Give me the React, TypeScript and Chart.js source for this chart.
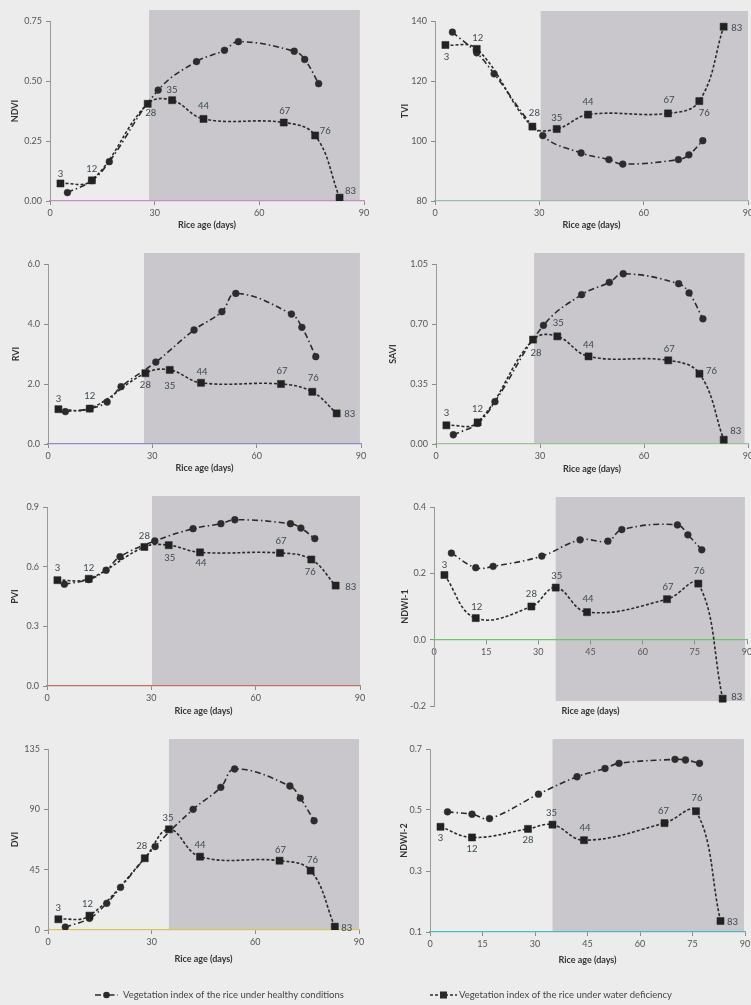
import React, { useEffect, useRef } from "react";
import { Chart, registerables } from "chart.js";

Chart.register(...registerables);

const FONT = "Lato, 'DejaVu Sans', sans-serif";

// ---- shared x values (rice age, days) ----
const healthyDays = [5, 12, 17, 21, 31, 42, 50, 54, 70, 73, 77];
const deficitDays = [3, 12, 28, 35, 44, 67, 76, 83];

const xTicks30 = [0, 30, 60, 90];
const xTicks15 = [0, 15, 30, 45, 60, 75, 90];

// ---- NDVI ----
const ndviHealthy = [0.035, 0.085, 0.164, null, 0.462, 0.581, 0.628, 0.664, 0.624, 0.59, 0.489];
const ndviDeficit = [0.073, 0.086, 0.405, 0.42, 0.342, 0.327, 0.273, 0.014];
const ndviTicks = [0, 0.25, 0.5, 0.75];

// ---- TVI ----
const tviHealthy = [136.3, 129.4, 122.4, null, 101.8, 96.0, 93.8, 92.3, 93.8, 95.4, 100.1];
const tviDeficit = [132.0, 130.7, 104.8, 104.0, 108.8, 109.2, 113.3, 138.1];
const tviTicks = [80, 100, 120, 140];

// ---- RVI ----
const rviHealthy = [1.08, 1.18, 1.4, 1.91, 2.73, 3.8, 4.41, 5.02, 4.33, 3.89, 2.91];
const rviDeficit = [1.16, 1.18, 2.36, 2.47, 2.04, 2.0, 1.74, 1.02];
const rviTicks = [0, 2, 4, 6];

// ---- SAVI ----
const saviHealthy = [0.054, 0.12, 0.247, null, 0.692, 0.871, 0.943, 0.993, 0.935, 0.881, 0.73];
const saviDeficit = [0.109, 0.126, 0.609, 0.628, 0.511, 0.488, 0.41, 0.025];
const saviTicks = [0, 0.35, 0.7, 1.05];

// ---- PVI ----
const pviHealthy = [0.512, 0.535, 0.582, 0.65, 0.729, 0.791, 0.816, 0.836, 0.816, 0.794, 0.741];
const pviDeficit = [0.532, 0.539, 0.699, 0.708, 0.672, 0.669, 0.636, 0.505];
const pviTicks = [0, 0.3, 0.6, 0.9];

// ---- NDWI-1 ----
const ndwi1Healthy = [0.261, 0.217, 0.221, null, 0.252, 0.301, 0.297, 0.332, 0.346, 0.316, 0.271];
const ndwi1Deficit = [0.195, 0.065, 0.1, 0.157, 0.083, 0.122, 0.169, -0.178];
const ndwi1Ticks = [-0.2, 0, 0.2, 0.4];

// ---- DVI ----
const dviHealthy = [2.2, 8.7, 19.9, 31.8, 62.2, 90.0, 106.4, 120.1, 107.4, 98.4, 81.5];
const dviDeficit = [8.0, 10.7, 53.5, 75.1, 54.7, 51.7, 44.3, 2.5];
const dviTicks = [0, 45, 90, 135];

// ---- NDWI-2 ----
const ndwi2Healthy = [0.494, 0.486, 0.472, null, 0.552, 0.609, 0.636, 0.653, 0.666, 0.664, 0.653];
const ndwi2Deficit = [0.445, 0.41, 0.438, 0.452, 0.401, 0.457, 0.496, 0.136];
const ndwi2Ticks = [0.1, 0.3, 0.5, 0.7];

const xTitle = "Rice age (days)";
const legendHealthy = "Vegetation index of the rice under healthy conditions";
const legendDeficit = "Vegetation index of the rice under water deficiency";

// ---- styles ----
const PAGE_BG = "#ececec";
const SHADE = "#c9c6cc";
const LINE = "#2a2a2a";
const LABEL_COLOR = "#3b4a52";
const TICK_COLOR = "#555555";
const LH = 9 * 1.2;

type Box = {
  cx: number; ct: number; cw: number; ch: number;
  l: number; r: number; t: number; b: number;
  titleX: number; xTitleY: number;
  shadeFrom: number; shadeTo: number; shadeTopPad: number; shadeBottom?: number;
  xAxisColor: string; xAtZero?: boolean;
};

type Panel = {
  yLabel: string;
  healthy: (number | null)[];
  deficit: number[];
  yTicks: number[];
  yDec: number;
  xTicks: number[];
  box: Box;
  labelOffsets: number[][];
  legend?: "healthy" | "deficit";
};

const panels: Panel[] = [
  {
    yLabel: "NDVI", healthy: ndviHealthy, deficit: ndviDeficit, yTicks: ndviTicks, yDec: 2, xTicks: xTicks30,
    box: { cx: 0, ct: 0, cw: 375, ch: 236, l: 50, r: 364, t: 21, b: 201, titleX: 15, xTitleY: 225,
      shadeFrom: 28.4, shadeTo: 88.8, shadeTopPad: 11, xAxisColor: "#c48ec6" },
    labelOffsets: [[0, -10], [0, -11], [3, 9], [0, -10], [0, -13], [1, -12], [10, -5], [11, -7]],
  },
  {
    yLabel: "TVI", healthy: tviHealthy, deficit: tviDeficit, yTicks: tviTicks, yDec: 0, xTicks: xTicks30,
    box: { cx: 375, ct: 0, cw: 390, ch: 236, l: 435, r: 748, t: 21, b: 201, titleX: 405, xTitleY: 225,
      shadeFrom: 30.4, shadeTo: 90, shadeTopPad: 10, xAxisColor: "#9fb8b0" },
    labelOffsets: [[1, 12], [1, -11], [2, -14], [0, -11], [0, -13], [1, -13], [5, 12], [13, 1]],
  },
  {
    yLabel: "RVI", healthy: rviHealthy, deficit: rviDeficit, yTicks: rviTicks, yDec: 1, xTicks: xTicks30,
    box: { cx: 0, ct: 236, cw: 375, ch: 244, l: 48, r: 361, t: 264, b: 444, titleX: 16, xTitleY: 468,
      shadeFrom: 27.6, shadeTo: 89.7, shadeTopPad: 11, xAxisColor: "#8c8cc2" },
    labelOffsets: [[0, -10], [0, -13], [0, 12], [0, 16], [1, -11], [1, -13], [1, -14], [13, 1]],
  },
  {
    yLabel: "SAVI", healthy: saviHealthy, deficit: saviDeficit, yTicks: saviTicks, yDec: 2, xTicks: xTicks30,
    box: { cx: 375, ct: 236, cw: 390, ch: 244, l: 436, r: 748, t: 264, b: 444, titleX: 393, xTitleY: 469,
      shadeFrom: 28.3, shadeTo: 89, shadeTopPad: 11, xAxisColor: "#98c498" },
    labelOffsets: [[0, -12], [0, -13], [3, 13], [1, -13], [0, -11], [1, -11], [12, -3], [12, -9]],
  },
  {
    yLabel: "PVI", healthy: pviHealthy, deficit: pviDeficit, yTicks: pviTicks, yDec: 1, xTicks: xTicks30,
    box: { cx: 0, ct: 480, cw: 375, ch: 245, l: 47, r: 360, t: 507, b: 686, titleX: 15, xTitleY: 711,
      shadeFrom: 30.2, shadeTo: 90, shadeTopPad: 11, xAxisColor: "#c2705c" },
    labelOffsets: [[0, -12], [0, -11], [0, -11], [1, 13], [1, 11], [1, -12], [-1, 12], [15, 1]],
  },
  {
    yLabel: "NDWI-1", healthy: ndwi1Healthy, deficit: ndwi1Deficit, yTicks: ndwi1Ticks, yDec: 1, xTicks: xTicks15,
    box: { cx: 375, ct: 480, cw: 390, ch: 245, l: 434, r: 747, t: 507, b: 706, titleX: 405, xTitleY: 711,
      shadeFrom: 35, shadeTo: 89.4, shadeTopPad: 10, shadeBottom: -0.185, xAxisColor: "#6cc46c", xAtZero: true },
    labelOffsets: [[0, -10], [1, -11], [0, -13], [1, -12], [1, -13], [1, -12], [1, -13], [14, -2]],
  },
  {
    yLabel: "DVI", healthy: dviHealthy, deficit: dviDeficit, yTicks: dviTicks, yDec: 0, xTicks: xTicks30,
    box: { cx: 0, ct: 725, cw: 375, ch: 280, l: 48, r: 359, t: 749, b: 930, titleX: 15, xTitleY: 959,
      shadeFrom: 35, shadeTo: 90, shadeTopPad: 10, xAxisColor: "#d6c84e" },
    labelOffsets: [[0, -11], [-2, -12], [-3, -12], [-1, -11], [0, -12], [1, -11], [2, -11], [12, 1]],
    legend: "healthy",
  },
  {
    yLabel: "NDWI-2", healthy: ndwi2Healthy, deficit: ndwi2Deficit, yTicks: ndwi2Ticks, yDec: 1, xTicks: xTicks15,
    box: { cx: 375, ct: 725, cw: 390, ch: 280, l: 430, r: 745, t: 749, b: 932, titleX: 404, xTitleY: 960,
      shadeFrom: 35, shadeTo: 89.7, shadeTopPad: 10, xAxisColor: "#4fb8c8" },
    labelOffsets: [[0, 11], [0, 11], [0, 11], [-1, -12], [1, -12], [-1, -12], [1, -13], [12, 1]],
    legend: "deficit",
  },
];

const HEALTHY_DASH = [6, 3, 1.5, 3];
const DEFICIT_DASH = [3, 2];

function drawLegend(ctx: CanvasRenderingContext2D, kind: "healthy" | "deficit", ox: number, oy: number) {
  const y = 995 - oy;
  ctx.save();
  ctx.strokeStyle = LINE;
  ctx.fillStyle = LINE;
  ctx.lineWidth = 1.6;
  if (kind === "healthy") {
    const x0 = 95 - ox, x1 = 118 - ox, mx = 106.5 - ox;
    ctx.setLineDash(HEALTHY_DASH);
    ctx.beginPath(); ctx.moveTo(x0, y); ctx.lineTo(x1, y); ctx.stroke();
    ctx.setLineDash([]);
    ctx.beginPath(); ctx.arc(mx, y, 3.3, 0, Math.PI * 2); ctx.fill();
    ctx.font = `9.5px ${FONT}`;
    ctx.fillStyle = "#444";
    ctx.textBaseline = "middle";
    ctx.textAlign = "left";
    ctx.fillText(legendHealthy, 123 - ox, y);
  } else {
    const x0 = 430 - ox, x1 = 457 - ox, mx = 443.5 - ox;
    ctx.setLineDash(DEFICIT_DASH);
    ctx.beginPath(); ctx.moveTo(x0, y); ctx.lineTo(x1, y); ctx.stroke();
    ctx.setLineDash([]);
    ctx.fillRect(mx - 3.5, y - 3.5, 7, 7);
    ctx.font = `9.5px ${FONT}`;
    ctx.fillStyle = "#444";
    ctx.textBaseline = "middle";
    ctx.textAlign = "left";
    ctx.fillText(legendDeficit, 459 - ox, y);
  }
  ctx.restore();
}

function buildConfig(p: Panel): any {
  const b = p.box;
  const yMin = p.yTicks[0];
  const yMax = p.yTicks[p.yTicks.length - 1];
  const y0 = b.t + ((yMax - 0) / (yMax - yMin)) * (b.b - b.t);
  let xh: number;
  let padBottom: number;
  if (b.xAtZero) {
    padBottom = b.ct + b.ch - b.b;
    xh = b.xTitleY - y0 + LH / 2;
  } else {
    padBottom = b.ct + b.ch - (b.xTitleY + LH / 2);
    xh = b.xTitleY + LH / 2 - b.b;
  }

  const plugins = [
    {
      id: "shade",
      beforeDraw(chart: any) {
        const { ctx, chartArea, scales } = chart;
        const x0 = scales.x.getPixelForValue(b.shadeFrom);
        const x1 = scales.x.getPixelForValue(b.shadeTo);
        const top = chartArea.top - b.shadeTopPad;
        const bottom = scales.y.getPixelForValue(b.shadeBottom !== undefined ? b.shadeBottom : yMin);
        ctx.save();
        ctx.fillStyle = SHADE;
        ctx.fillRect(x0, top, x1 - x0, bottom - top);
        ctx.restore();
      },
    },
    {
      id: "pointLabels",
      afterDatasetsDraw(chart: any) {
        const { ctx } = chart;
        const meta = chart.getDatasetMeta(0);
        ctx.save();
        ctx.font = `9.5px ${FONT}`;
        ctx.fillStyle = LABEL_COLOR;
        ctx.textAlign = "center";
        ctx.textBaseline = "middle";
        meta.data.forEach((el: any, i: number) => {
          const off = p.labelOffsets[i] || [0, -12];
          ctx.fillText(String(deficitDays[i]), el.x + off[0], el.y + off[1]);
        });
        ctx.restore();
      },
    },
    {
      id: "legendDraw",
      afterDraw(chart: any) {
        if (p.legend) drawLegend(chart.ctx, p.legend, b.cx, b.ct);
      },
    },
  ];

  return {
    type: "line",
    data: {
      datasets: [
        {
          label: legendDeficit,
          data: deficitDays.map((d, i) => ({ x: d, y: p.deficit[i] })),
          borderColor: LINE,
          borderWidth: 1.6,
          borderDash: DEFICIT_DASH,
          pointStyle: "rect",
          pointRadius: 5,
          pointBackgroundColor: "#222",
          pointBorderColor: "#222",
          pointBorderWidth: 0.5,
          tension: 0.4,
          fill: false,
        },
        {
          label: legendHealthy,
          data: healthyDays.map((d, i) => ({ x: d, y: p.healthy[i] })),
          borderColor: LINE,
          borderWidth: 1.6,
          borderDash: HEALTHY_DASH,
          pointStyle: "circle",
          pointRadius: 3.4,
          pointBackgroundColor: "#2c2c2c",
          pointBorderColor: "#2c2c2c",
          pointBorderWidth: 0.5,
          tension: 0.4,
          spanGaps: true,
          fill: false,
        },
      ],
    },
    options: {
      animation: false,
      responsive: false,
      devicePixelRatio: 1,
      events: [],
      layout: { padding: { left: 0, top: b.t - b.ct, right: b.cx + b.cw - b.r, bottom: padBottom } },
      plugins: { legend: { display: false }, tooltip: { enabled: false }, title: { display: false } },
      scales: {
        x: {
          type: "linear",
          min: 0,
          max: 90,
          position: b.xAtZero ? { y: 0 } : "bottom",
          afterBuildTicks: (s: any) => { s.ticks = p.xTicks.map((v) => ({ value: v })); },
          afterFit: (s: any) => { s.height = xh; },
          ticks: {
            color: TICK_COLOR,
            font: { size: 9, family: FONT },
            padding: 3,
            maxRotation: 0,
            minRotation: 0,
            autoSkip: false,
            callback: (v: any) => String(v),
          },
          grid: { display: true, drawOnChartArea: false, drawTicks: true, tickLength: 4, color: "#8a8a8a" },
          border: { display: true, color: b.xAxisColor, width: 1.3 },
          title: {
            display: true,
            text: xTitle,
            color: "#333",
            font: { size: 9, weight: "bold", family: FONT },
            padding: { top: 0, bottom: 0 },
          },
        },
        y: {
          type: "linear",
          min: yMin,
          max: yMax,
          afterBuildTicks: (s: any) => { s.ticks = p.yTicks.map((v) => ({ value: v })); },
          afterFit: (s: any) => { s.width = b.l - b.cx; },
          ticks: {
            color: TICK_COLOR,
            font: { size: 9, family: FONT },
            padding: 4,
            autoSkip: false,
            callback: (v: any) => Number(v).toFixed(p.yDec),
          },
          grid: { display: true, drawOnChartArea: false, drawTicks: true, tickLength: 4, color: "#8a8a8a" },
          border: { display: true, color: "#9a9a9a", width: 1 },
          title: {
            display: true,
            text: p.yLabel,
            color: "#333",
            font: { size: 9, weight: "bold", family: FONT },
            padding: { top: b.titleX - b.cx - LH / 2, bottom: 0 },
          },
        },
      },
    },
    plugins,
  };
}

function PanelChart({ p }: { p: Panel }) {
  const ref = useRef<HTMLCanvasElement | null>(null);
  useEffect(() => {
    if (!ref.current) return;
    const chart = new Chart(ref.current, buildConfig(p));
    return () => chart.destroy();
  }, [p]);
  const b = p.box;
  return (
    <canvas
      ref={ref}
      width={b.cw}
      height={b.ch}
      style={{ position: "absolute", left: b.cx, top: b.ct, width: b.cw, height: b.ch, display: "block" }}
    />
  );
}

export default function App() {
  return (
    <div
      style={{
        position: "absolute",
        left: 0,
        top: 0,
        width: 751,
        height: 1005,
        overflow: "hidden",
        background: PAGE_BG,
      }}
    >
      {panels.map((p) => (
        <PanelChart key={p.yLabel} p={p} />
      ))}
    </div>
  );
}
